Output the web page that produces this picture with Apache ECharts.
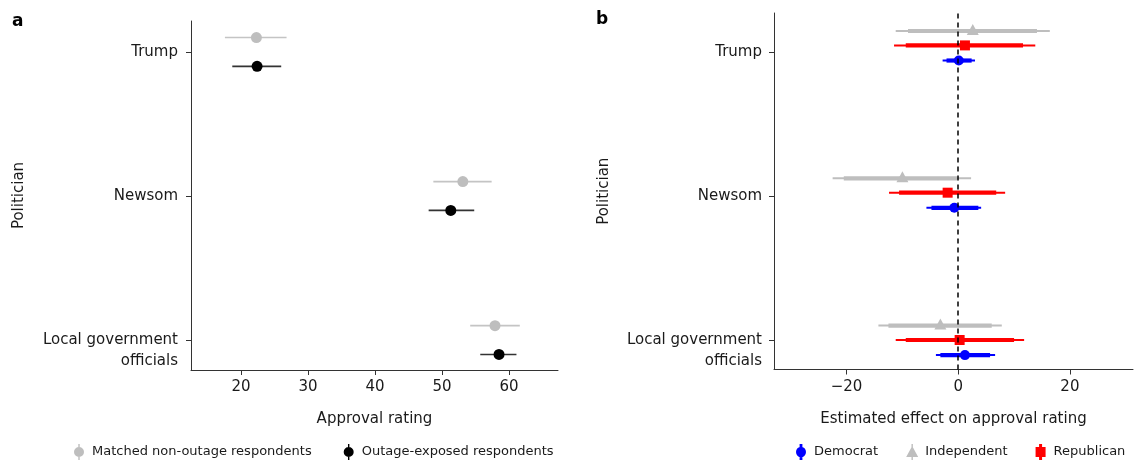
<!DOCTYPE html>
<html><head><meta charset="utf-8">
<script src="https://cdn.jsdelivr.net/npm/echarts@6/dist/echarts.min.js"></script>
<style>html,body{margin:0;padding:0;background:#fff}#c{width:1135px;height:462px}</style>
</head><body><div id="c"></div>
<script>
// ---------- data ----------
const categories = ['Trump', 'Newsom', 'Local government officials'];
const catTicks = [3, 2, 1];            // category positions on the vertical value axis (top to bottom)
const approvalTicks = [20, 30, 40, 50, 60];
const effectTicks = [-20, 0, 20];

// Panel a: approval rating (estimate, CI low, CI high)
const matchedMid  = [22.3, 53.1, 57.9];
const matchedLow  = [17.6, 48.7, 54.2];
const matchedHigh = [26.8, 57.4, 61.6];
const exposedMid  = [22.4, 51.3, 58.5];
const exposedLow  = [18.7, 48.0, 55.7];
const exposedHigh = [26.0, 54.8, 61.1];

// Panel b: estimated effect (estimate, outer CI low/high, inner CI low/high)
const demEst   = [0.1, -0.7, 1.2];
const demLo95  = [-2.8, -5.7, -4.0];
const demHi95  = [3.0, 4.1, 6.6];
const demLo90  = [-2.1, -4.8, -3.2];
const demHi90  = [2.4, 3.6, 5.7];
const indEst   = [2.6, -10.0, -3.2];
const indLo95  = [-11.2, -22.5, -14.3];
const indHi95  = [16.4, 2.3, 7.8];
const indLo90  = [-9.0, -20.5, -12.5];
const indHi90  = [14.1, -0.2, 6.0];
const repEst   = [1.2, -1.9, 0.25];
const repLo95  = [-11.5, -12.4, -11.2];
const repHi95  = [13.8, 8.4, 11.8];
const repLo90  = [-9.4, -10.6, -9.4];
const repHi90  = [11.6, 6.8, 10.0];

// ---------- layout constants (dodge offsets) ----------
const leftDodge = { matched: 0.1, exposed: -0.1 };
const rightGroupShift = [0.046, 0.023, 0];
const rightDodge = { ind: 0.1, rep: 0, dem: -0.105 };

const FONT = 'DejaVu Sans';
const AXIS_COLOR = '#333';
const TEXT_COLOR = '#1a1a1a';

function catLabel(v) {
  const i = catTicks.indexOf(Math.round(v));
  if (i < 0) return '';
  if (i === 2) return ' \nLocal government\nofficials';
  return categories[i];
}

function leftData(mid, lo, hi, dodge) {
  return mid.map((v, i) => [v, lo[i], hi[i], catTicks[i] + dodge]);
}
function rightData(est, lo95, hi95, lo90, hi90, dodge) {
  return est.map((v, i) => [v, lo95[i], hi95[i], lo90[i], hi90[i], catTicks[i] + rightGroupShift[i] + dodge]);
}

function pointRange(fill, stroke) {
  return function (params, api) {
    const y = api.value(3);
    const a = api.coord([api.value(1), y]);
    const b = api.coord([api.value(2), y]);
    const m = api.coord([api.value(0), y]);
    return { type: 'group', children: [
      { type: 'line', shape: { x1: a[0], y1: a[1], x2: b[0], y2: b[1] }, style: { stroke: stroke, lineWidth: 1.6 } },
      { type: 'circle', shape: { cx: m[0], cy: m[1], r: 5.5 }, style: { fill: fill } }
    ] };
  };
}

function effectRange(color, marker) {
  return function (params, api) {
    const y = api.value(5);
    const a = api.coord([api.value(1), y]);
    const b = api.coord([api.value(2), y]);
    const c = api.coord([api.value(3), y]);
    const d = api.coord([api.value(4), y]);
    const m = api.coord([api.value(0), y]);
    let mk;
    if (marker === 'circle') {
      mk = { type: 'circle', shape: { cx: m[0], cy: m[1], r: 5 }, style: { fill: color } };
    } else if (marker === 'rect') {
      mk = { type: 'rect', shape: { x: m[0] - 5, y: m[1] - 5, width: 10, height: 10 }, style: { fill: color } };
    } else {
      mk = { type: 'polygon', shape: { points: [[m[0], m[1] - 7], [m[0] + 6, m[1] + 4], [m[0] - 6, m[1] + 4]] }, style: { fill: color } };
    }
    return { type: 'group', children: [
      { type: 'line', shape: { x1: a[0], y1: a[1], x2: b[0], y2: b[1] }, style: { stroke: color, lineWidth: 2 } },
      { type: 'line', shape: { x1: c[0], y1: c[1], x2: d[0], y2: d[1] }, style: { stroke: color, lineWidth: 4.2 } },
      mk
    ] };
  };
}

const chart = echarts.init(document.getElementById('c'), null, { renderer: 'canvas' });

const axisLineCommon = { show: true, onZero: false, lineStyle: { color: AXIS_COLOR, width: 1 } };
const labelCommon = { fontFamily: FONT, fontSize: 15, color: TEXT_COLOR };
const nameStyle = { fontFamily: FONT, fontSize: 15, color: TEXT_COLOR };

const iconLine = 'path://M4.3,0 L5.7,0 L5.7,16 L4.3,16 Z M10,8 A5,5 0 1,1 0,8 A5,5 0 1,1 10,8 Z';
const iconDem = 'path://M3.6,0 L6.4,0 L6.4,16 L3.6,16 Z M10,8 A5,5.2 0 1,1 0,8 A5,5.2 0 1,1 10,8 Z';
const iconInd = 'path://M5.3,0 L6.7,0 L6.7,16 L5.3,16 Z M6,2 L12,13 L0,13 Z';
const iconRep = 'path://M4.5,0 L7.5,0 L7.5,16 L4.5,16 Z M1,3 L11,3 L11,13 L1,13 Z';

const option = {
  animation: false,
  backgroundColor: '#fff',
  title: [
    { text: 'a', left: 12, top: 13, padding: 0, textStyle: { fontFamily: FONT, fontWeight: 'bold', fontSize: 17, color: '#000' } },
    { text: 'b', left: 596, top: 11, padding: 0, textStyle: { fontFamily: FONT, fontWeight: 'bold', fontSize: 17, color: '#000' } }
  ],
  grid: [
    { left: 191, top: 21, width: 367, height: 349 },
    { left: 774, top: 13, width: 359, height: 356.5 }
  ],
  legend: [
    {
      left: 74, top: 444, padding: 0, itemGap: 32, itemWidth: 10, itemHeight: 16,
      textStyle: { fontFamily: FONT, fontSize: 13, color: TEXT_COLOR, padding: [0, 0, 0, 3] },
      selectedMode: false,
      data: [
        { name: 'Matched non-outage respondents', icon: iconLine, itemStyle: { color: '#bebebe' } },
        { name: 'Outage-exposed respondents', icon: iconLine, itemStyle: { color: '#000' } }
      ]
    },
    {
      left: 796, top: 444, padding: 0, width: 339, itemGap: 28, itemWidth: 12, itemHeight: 16,
      textStyle: { fontFamily: FONT, fontSize: 13, color: TEXT_COLOR, padding: [0, 0, 0, 2] },
      selectedMode: false,
      data: [
        { name: 'Democrat', icon: iconDem, itemStyle: { color: '#0000ff' } },
        { name: 'Independent', icon: iconInd, itemStyle: { color: '#bebebe' } },
        { name: 'Republican', icon: iconRep, itemStyle: { color: '#ff0000' } }
      ]
    }
  ],
  xAxis: [
    {
      gridIndex: 0, type: 'value', min: 12.54, max: 67.3,
      axisLine: axisLineCommon,
      axisTick: { show: true, length: 5, customValues: approvalTicks, lineStyle: { color: AXIS_COLOR } },
      axisLabel: Object.assign({ customValues: approvalTicks, margin: 10 }, labelCommon),
      splitLine: { show: false },
      name: 'Approval rating', nameLocation: 'middle', nameGap: 42, nameTextStyle: nameStyle
    },
    {
      gridIndex: 1, type: 'value', min: -33, max: 31.3,
      axisLine: axisLineCommon,
      axisTick: { show: true, length: 5, customValues: effectTicks, lineStyle: { color: AXIS_COLOR } },
      axisLabel: Object.assign({ customValues: effectTicks, margin: 10,
        formatter: v => (v < 0 ? '\u2212' + Math.abs(v) : String(v)) }, labelCommon),
      splitLine: { show: false },
      name: 'Estimated effect on approval rating', nameLocation: 'middle', nameGap: 42, nameTextStyle: nameStyle
    }
  ],
  yAxis: [
    {
      gridIndex: 0, type: 'value', min: 0.792, max: 3.215,
      axisLine: axisLineCommon,
      axisTick: { show: true, length: 5, customValues: catTicks, lineStyle: { color: AXIS_COLOR } },
      axisLabel: Object.assign({ customValues: catTicks, margin: 13, lineHeight: 21, formatter: catLabel }, labelCommon),
      splitLine: { show: false },
      name: 'Politician', nameLocation: 'middle', nameGap: 164, nameTextStyle: nameStyle
    },
    {
      gridIndex: 1, type: 'value', min: 0.795, max: 3.271,
      axisLine: axisLineCommon,
      axisTick: { show: true, length: 5, customValues: catTicks, lineStyle: { color: AXIS_COLOR } },
      axisLabel: Object.assign({ customValues: catTicks, margin: 12, lineHeight: 21, formatter: catLabel }, labelCommon),
      splitLine: { show: false },
      name: 'Politician', nameLocation: 'middle', nameGap: 162, nameTextStyle: nameStyle
    }
  ],
  series: [
    {
      name: 'Matched non-outage respondents', type: 'custom', xAxisIndex: 0, yAxisIndex: 0,
      itemStyle: { color: '#bebebe' },
      renderItem: pointRange('#bebebe', '#c4c4c4'),
      encode: { x: [0, 1, 2], y: 3 },
      data: leftData(matchedMid, matchedLow, matchedHigh, leftDodge.matched)
    },
    {
      name: 'Outage-exposed respondents', type: 'custom', xAxisIndex: 0, yAxisIndex: 0,
      itemStyle: { color: '#000' },
      renderItem: pointRange('#000', '#333'),
      encode: { x: [0, 1, 2], y: 3 },
      data: leftData(exposedMid, exposedLow, exposedHigh, leftDodge.exposed)
    },
    {
      name: 'Independent', type: 'custom', xAxisIndex: 1, yAxisIndex: 1,
      itemStyle: { color: '#bebebe' },
      renderItem: effectRange('#bebebe', 'triangle'),
      encode: { x: [0, 1, 2, 3, 4], y: 5 },
      data: rightData(indEst, indLo95, indHi95, indLo90, indHi90, rightDodge.ind)
    },
    {
      name: 'Republican', type: 'custom', xAxisIndex: 1, yAxisIndex: 1,
      itemStyle: { color: '#ff0000' },
      renderItem: effectRange('#ff0000', 'rect'),
      encode: { x: [0, 1, 2, 3, 4], y: 5 },
      data: rightData(repEst, repLo95, repHi95, repLo90, repHi90, rightDodge.rep)
    },
    {
      name: 'Democrat', type: 'custom', xAxisIndex: 1, yAxisIndex: 1,
      itemStyle: { color: '#0000ff' },
      renderItem: effectRange('#0000ff', 'circle'),
      encode: { x: [0, 1, 2, 3, 4], y: 5 },
      data: rightData(demEst, demLo95, demHi95, demLo90, demHi90, rightDodge.dem)
    },
    {
      name: 'zero', type: 'line', xAxisIndex: 1, yAxisIndex: 1, data: [], z: 10,
      markLine: {
        silent: true, symbol: 'none', label: { show: false },
        lineStyle: { color: '#000', type: [5, 4], width: 1.5 },
        data: [{ xAxis: 0 }]
      }
    }
  ]
};
chart.setOption(option);
</script></body></html>
